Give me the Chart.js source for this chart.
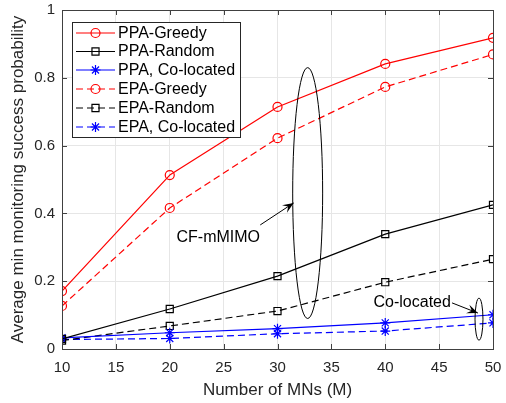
<!DOCTYPE html>
<html><head><meta charset="utf-8">
<script src="https://cdn.jsdelivr.net/npm/chart.js@4.4.1/dist/chart.umd.min.js"></script>
<style>html,body{margin:0;padding:0;background:#fff}#wrap{width:506px;height:403px}</style>
</head><body><div id="wrap"><canvas id="c" width="506" height="403"></canvas></div>
<script>
const mns = [10, 20, 30, 40, 50];
const ppaGreedy = [0.171, 0.513, 0.714, 0.841, 0.918];
const ppaRandom = [0.030, 0.118, 0.215, 0.339, 0.425];
const ppaColoc  = [0.033, 0.048, 0.060, 0.077, 0.101];
const epaGreedy = [0.127, 0.416, 0.622, 0.773, 0.869];
const epaRandom = [0.025, 0.068, 0.112, 0.197, 0.265];
const epaColoc  = [0.028, 0.031, 0.045, 0.053, 0.077];
const seriesNames = ['PPA-Greedy','PPA-Random','PPA, Co-located','EPA-Greedy','EPA-Random','EPA, Co-located'];
const xTicks = [10,15,20,25,30,35,40,45,50];
const yTicks = [0,0.2,0.4,0.6,0.8,1];

const FONT = '"Liberation Sans", Arial, Helvetica, sans-serif';
const RED = '#ff0000', BLK = '#000000', BLU = '#0000ff';
const DASH = [7,4];

function mk(name, vals, color, style, dashed, r){
  return {label:name, data: mns.map((m,i)=>({x:m,y:vals[i]})), borderColor:color, backgroundColor:'rgba(0,0,0,0)',
    pointBorderColor:color, pointBackgroundColor:'rgba(0,0,0,0)', pointStyle:style, pointRadius:r, pointBorderWidth:1.2,
    borderWidth:1.2, borderDash: dashed?DASH:[], tension:0, fill:false};
}
const datasets = [
  mk(seriesNames[0], ppaGreedy, RED, 'circle', false, 4.5),
  mk(seriesNames[1], ppaRandom, BLK, 'rect', false, 5),
  mk(seriesNames[2], ppaColoc, BLU, 'star', false, 5),
  mk(seriesNames[3], epaGreedy, RED, 'circle', true, 4.5),
  mk(seriesNames[4], epaRandom, BLK, 'rect', true, 5),
  mk(seriesNames[5], epaColoc, BLU, 'star', true, 5),
];

function arrow(ctx, x1,y1,x2,y2){
  ctx.beginPath(); ctx.moveTo(x1,y1); ctx.lineTo(x2,y2); ctx.stroke();
  const a = Math.atan2(y2-y1,x2-x1), L=11, W=4.5;
  ctx.beginPath();
  ctx.moveTo(x2,y2);
  ctx.lineTo(x2-L*Math.cos(a)+W*Math.sin(a), y2-L*Math.sin(a)-W*Math.cos(a));
  ctx.lineTo(x2-0.6*L*Math.cos(a), y2-0.6*L*Math.sin(a));
  ctx.lineTo(x2-L*Math.cos(a)-W*Math.sin(a), y2-L*Math.sin(a)+W*Math.cos(a));
  ctx.closePath(); ctx.fill();
}

const deco = {
  id:'deco',
  afterDatasetsDraw(chart){
    const {ctx, chartArea:a, scales:{x,y}} = chart;
    ctx.save();
    ctx.strokeStyle = '#404040'; ctx.lineWidth = 1;
    ctx.strokeRect(Math.round(a.left)+0.5, Math.round(a.top)+0.5, Math.round(a.right-a.left), Math.round(a.bottom-a.top));
    ctx.beginPath();
    xTicks.forEach(v=>{const p=Math.round(x.getPixelForValue(v))+0.5; ctx.moveTo(p,a.bottom); ctx.lineTo(p,a.bottom-5); ctx.moveTo(p,a.top); ctx.lineTo(p,a.top+5);});
    yTicks.forEach(v=>{const p=Math.round(y.getPixelForValue(v))+0.5; ctx.moveTo(a.left,p); ctx.lineTo(a.left+5,p); ctx.moveTo(a.right,p); ctx.lineTo(a.right-5,p);});
    ctx.stroke();

    ctx.strokeStyle = '#000'; ctx.fillStyle='#000'; ctx.lineWidth = 1;
    const ell = (cx,cy,rx,ry)=>{
      const px=x.getPixelForValue(cx), py=y.getPixelForValue(cy);
      const rpx=Math.abs(x.getPixelForValue(cx+rx)-px), rpy=Math.abs(y.getPixelForValue(cy+ry)-py);
      ctx.beginPath(); ctx.ellipse(px,py,rpx,rpy,0,0,Math.PI*2); ctx.stroke();
    };
    ell(32.8, 0.46, 1.39, 0.37);
    ell(48.7, 0.088, 0.37, 0.062);
    arrow(ctx, x.getPixelForValue(28.4), y.getPixelForValue(0.366), x.getPixelForValue(31.5), y.getPixelForValue(0.431));
    arrow(ctx, x.getPixelForValue(46.2), y.getPixelForValue(0.136), x.getPixelForValue(48.6), y.getPixelForValue(0.106));
    ctx.font = '16px '+FONT; ctx.textBaseline='middle'; ctx.textAlign='center';
    ctx.fillText('CF-mMIMO', x.getPixelForValue(24.5), y.getPixelForValue(0.33));
    ctx.fillText('Co-located', x.getPixelForValue(42.5), y.getPixelForValue(0.138));

    const lx=72.5, ly=22.5, lw=168, lh=115;
    ctx.fillStyle='#fff'; ctx.fillRect(lx,ly,lw,lh);
    ctx.strokeStyle='#262626'; ctx.strokeRect(lx,ly,lw,lh);
    const rowY=[33,51.5,70,89,108,127];
    chart.data.datasets.forEach((ds,i)=>{
      const yy=rowY[i];
      ctx.strokeStyle=ds.borderColor; ctx.lineWidth=ds.borderWidth;
      ctx.setLineDash(ds.borderDash);
      ctx.beginPath(); ctx.moveTo(76,yy); ctx.lineTo(115,yy); ctx.stroke();
      ctx.setLineDash([]);
      ctx.fillStyle='rgba(0,0,0,0)';
      Chart.helpers.drawPoint(ctx,{pointStyle:ds.pointStyle, radius:ds.pointRadius, borderWidth:ds.pointBorderWidth, rotation:0}, 95.5, yy);
      ctx.fillStyle='#000'; ctx.textAlign='left'; ctx.font='16px '+FONT;
      ctx.fillText(ds.label, 118, yy+0.5);
    });
    ctx.restore();
  }
};

new Chart(document.getElementById('c'), {
  type:'line',
  data:{datasets},
  options:{
    responsive:false, animation:false, devicePixelRatio:1,
    layout:{padding:{top:10,right:13,left:0,bottom:0}},
    plugins:{legend:{display:false}, tooltip:{enabled:false}},
    elements:{line:{borderJoinStyle:'round'}},
    scales:{
      x:{type:'linear', min:10, max:50,
        afterBuildTicks(s){s.ticks=xTicks.map(v=>({value:v}));},
        afterFit(s){s.height=54; s.paddingLeft=0; s.paddingRight=0;},
        ticks:{font:{family:FONT,size:15}, color:'#262626', padding:10, maxRotation:0, autoSkip:false},
        grid:{color:'#e6e6e6', drawTicks:false, lineWidth:1}, border:{display:false},
        title:{display:true, text:'Number of MNs (M)', font:{family:FONT,size:17}, color:'#262626', padding:{top:0,bottom:2}}
      },
      y:{type:'linear', min:0, max:1,
        afterBuildTicks(s){s.ticks=yTicks.map(v=>({value:v}));},
        afterFit(s){s.width=62; s.paddingTop=0; s.paddingBottom=0;},
        ticks:{font:{family:FONT,size:15}, color:'#262626', padding:7, callback:v=>String(+v.toFixed(1))},
        grid:{color:'#e6e6e6', drawTicks:false, lineWidth:1}, border:{display:false},
        title:{display:true, text:'Average min monitoring success probability', font:{family:FONT,size:17}, color:'#262626', padding:{top:8,bottom:0}}
      }
    }
  },
  plugins:[deco]
});
</script></body></html>
